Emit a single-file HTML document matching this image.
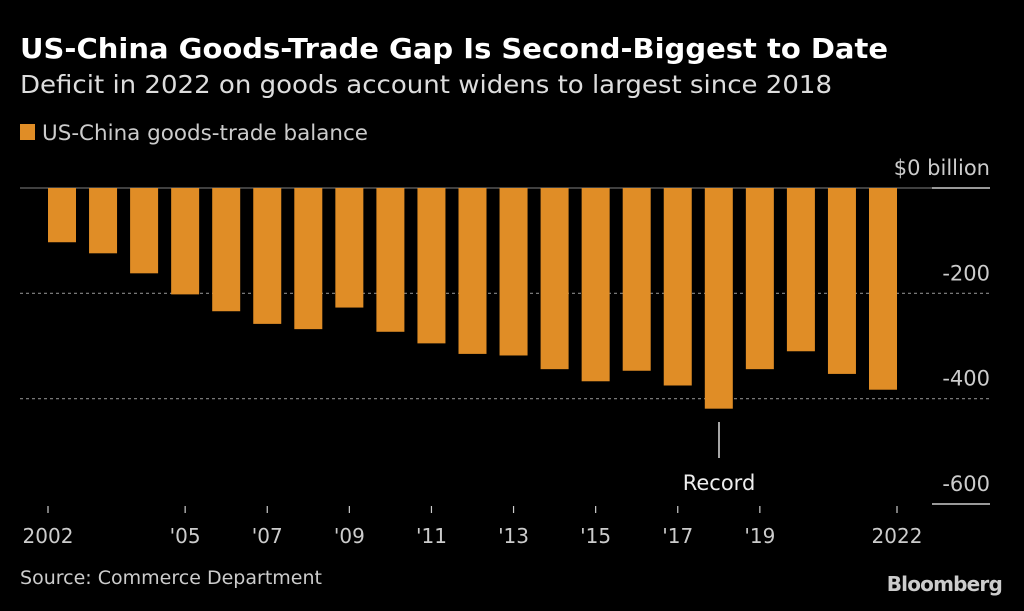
<!DOCTYPE html>
<html><head><meta charset="utf-8"><style>
body{margin:0;background:#000;width:1024px;height:607px;overflow:hidden;font-family:"DejaVu Sans","Liberation Sans",sans-serif}
svg text{font-family:"DejaVu Sans","Liberation Sans",sans-serif}
</style></head><body>
<svg id="chart" width="1024" height="607" viewBox="0 0 1024 607" xmlns="http://www.w3.org/2000/svg">
<rect width="1024" height="607" fill="#000"/>
<text x="20" y="58" fill="#fff" font-size="28" font-weight="bold" textLength="868" lengthAdjust="spacingAndGlyphs">US-China Goods-Trade Gap Is Second-Biggest to Date</text>
<text x="20" y="93" fill="#ddd" font-size="25" textLength="812" lengthAdjust="spacingAndGlyphs">Deficit in 2022 on goods account widens to largest since 2018</text>
<rect x="20" y="124" width="15" height="16" fill="#E08D26"/>
<text x="42" y="140" fill="#ccc" font-size="21" textLength="326" lengthAdjust="spacingAndGlyphs">US-China goods-trade balance</text>
<g id="grid"></g><g id="bars"></g><g id="xaxis"></g>
<line x1="719" y1="422" x2="719" y2="458" stroke="#ddd" stroke-width="1.5"/>
<text x="719" y="490" fill="#eee" font-size="21" text-anchor="middle">Record</text>
<text x="20" y="584" fill="#ccc" font-size="19" textLength="302" lengthAdjust="spacingAndGlyphs">Source: Commerce Department</text>
<text x="1002" y="591" fill="#ccc" font-size="20" font-weight="bold" text-anchor="end" letter-spacing="-0.8">Bloomberg</text>
</svg>
<script>
const years=[2002,2003,2004,2005,2006,2007,2008,2009,2010,2011,2012,2013,2014,2015,2016,2017,2018,2019,2020,2021,2022];
const values=[-103,-124,-162,-202,-234,-258,-268,-227,-273,-295,-315,-318,-344,-367,-347,-375,-419,-344,-310,-353,-383];
const yTicks=[0,-200,-400,-600];
const yTickLabels=["$0 billion","-200","-400","-600"];
const xTickYears=[2002,2005,2007,2009,2011,2013,2015,2017,2019,2022];
const xTickLabels=["2002","'05","'07","'09","'11","'13","'15","'17","'19","2022"];
const NS="http://www.w3.org/2000/svg";
const y0=188,pxPer=(504-188)/600;
function yS(v){return y0-v*pxPer;}
function xC(i){return 62+i*41.05;}
const bw=28;
function mk(tag,attrs,parent){const e=document.createElementNS(NS,tag);for(const k in attrs)e.setAttribute(k,attrs[k]);parent.appendChild(e);return e;}
const grid=document.getElementById('grid'),bars=document.getElementById('bars'),xa=document.getElementById('xaxis');
yTicks.forEach((t,i)=>{
  const y=yS(t);
  if(t===0){const l=mk('line',{x1:20,x2:932,y1:y,y2:y,stroke:'#666','stroke-width':1.2},grid);
    
    }
  else if(t!==-600){const l=mk('line',{x1:20,x2:990,y1:y,y2:y,stroke:'#888','stroke-width':1.2,'stroke-dasharray':'3,3'},grid);
    
    }
  if(t===0||t===-600){const s=mk('line',{x1:932,x2:990,y1:y,y2:y,stroke:'#ccc','stroke-width':1.5},grid);
    
    }
  const tx=mk('text',{x:990,y:y-13,fill:'#ccc','font-size':21,'text-anchor':'end'},grid);
  tx.textContent=yTickLabels[i];
  
  
});
years.forEach((yr,i)=>{
  const v=values[i];
  const r=mk('rect',{x:xC(i)-bw/2,y:y0,width:bw,height:yS(v)-y0,fill:'#E08D26'},bars);
  
  
});
xTickYears.forEach((yr,j)=>{
  const i=years.indexOf(yr);
  let x=xC(i);
  if(j===0)x-=bw/2;
  if(j===xTickYears.length-1)x+=bw/2;
  const l=mk('line',{x1:x,x2:x,y1:506,y2:513,stroke:'#ccc','stroke-width':1.2},xa);
  
  
  const t=mk('text',{x:x,y:543,fill:'#ccc','font-size':20,'text-anchor':'middle'},xa);
  t.textContent=xTickLabels[j];
  
  
});
</script>
</body></html>
